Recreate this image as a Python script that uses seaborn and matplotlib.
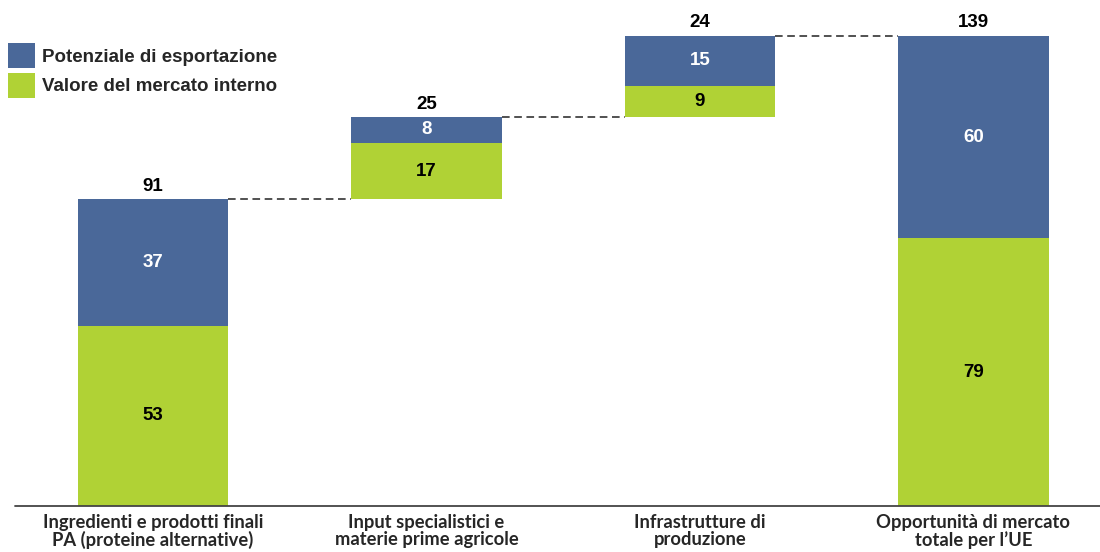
import matplotlib
matplotlib.use("Agg")
import matplotlib.pyplot as plt
import seaborn as sns
import numpy as np
import pandas as pd
from matplotlib.patches import Patch

categories = ["Ingredienti e prodotti finali\nPA (proteine alternative)",
              "Input specialistici e\nmaterie prime agricole",
              "Infrastrutture di\nproduzione",
              "Opportunità di mercato\ntotale per l\u2019UE"]
domestic = [53.4, 16.6, 9.2, 79.2]      # Valore del mercato interno
export = [37.4, 7.7, 14.8, 59.9]        # Potenziale di esportazione
domestic_labels = ["53", "17", "9", "79"]
export_labels = ["37", "8", "15", "60"]
total_labels = ["91", "25", "24", "139"]
is_total = [False, False, False, True]

BLUE = "#4A6899"
GREEN = "#B0D235"

sns.set_theme(style="white")
plt.rcParams["font.family"] = ["Liberation Sans", "DejaVu Sans"]

# waterfall bottoms
bottoms = []
run = 0.0
for d, e, t in zip(domestic, export, is_total):
    if t:
        bottoms.append(0.0)
    else:
        bottoms.append(run)
        run += d + e
bottoms = np.array(bottoms)
dom = np.array(domestic)
exp_ = np.array(export)

df = pd.DataFrame({"cat": categories, "dom": dom, "exp": exp_,
                   "b_dom": bottoms, "b_exp": bottoms + dom})

fig = plt.figure(figsize=(11, 5.52), dpi=100)
ax = fig.add_axes([0, 46 / 552, 1, 506 / 552])

W = 0.552
sns.barplot(data=df, x="cat", y="dom", order=categories, color=GREEN,
            width=W, bottom=df["b_dom"].values, saturation=1, ax=ax,
            edgecolor="none", linewidth=0)
sns.barplot(data=df, x="cat", y="exp", order=categories, color=BLUE,
            width=W, bottom=df["b_exp"].values, saturation=1, ax=ax,
            edgecolor="none", linewidth=0)

ax.set_xlim(-153 / 273.5, (1100 - 153) / 273.5)
ax.set_ylim(0, 506 / 3.38)

fs = 13.5
for i in range(len(categories)):
    b = bottoms[i]
    ax.text(i, b + dom[i] / 2, domestic_labels[i], ha="center", va="center",
            fontsize=fs, fontweight="bold", color="black")
    ax.text(i, b + dom[i] + exp_[i] / 2, export_labels[i], ha="center", va="center",
            fontsize=fs, fontweight="bold", color="white")
    ax.text(i, b + dom[i] + exp_[i] + 1.3, total_labels[i], ha="center", va="bottom",
            fontsize=fs, fontweight="bold", color="black")

# connectors
for i in range(len(categories) - 1):
    level = bottoms[i] + dom[i] + exp_[i]
    ax.plot([i + W / 2, i + 1 - W / 2], [level, level], ls=(0, (5, 3)),
            color="#222222", lw=1.1)

# baseline
ax.axhline(0, xmin=15 / 1100, xmax=1.0, color="#444444", lw=1.3, clip_on=False)

for s in ax.spines.values():
    s.set_visible(False)
ax.set_yticks([])
ax.set_xlabel("")
ax.set_ylabel("")
ax.set_xticks(range(len(categories)))
ax.set_xticklabels(categories, fontsize=13.2, fontweight="bold",
                   family=["Lato", "DejaVu Sans"], linespacing=1.0)
ax.tick_params(axis="x", length=0, pad=6)

handles = [Patch(facecolor=BLUE, edgecolor="none", label="Potenziale di esportazione"),
           Patch(facecolor=GREEN, edgecolor="none", label="Valore del mercato interno")]
leg = fig.legend(handles=handles, loc="upper left", bbox_to_anchor=(-0.005, 0.945),
                 frameon=False, handlelength=1.45, handleheight=1.65,
                 handletextpad=0.4, labelspacing=0.25, borderaxespad=0.3,
                 prop={"size": fs, "weight": "bold"})

fig.savefig("out.png", dpi=100)
